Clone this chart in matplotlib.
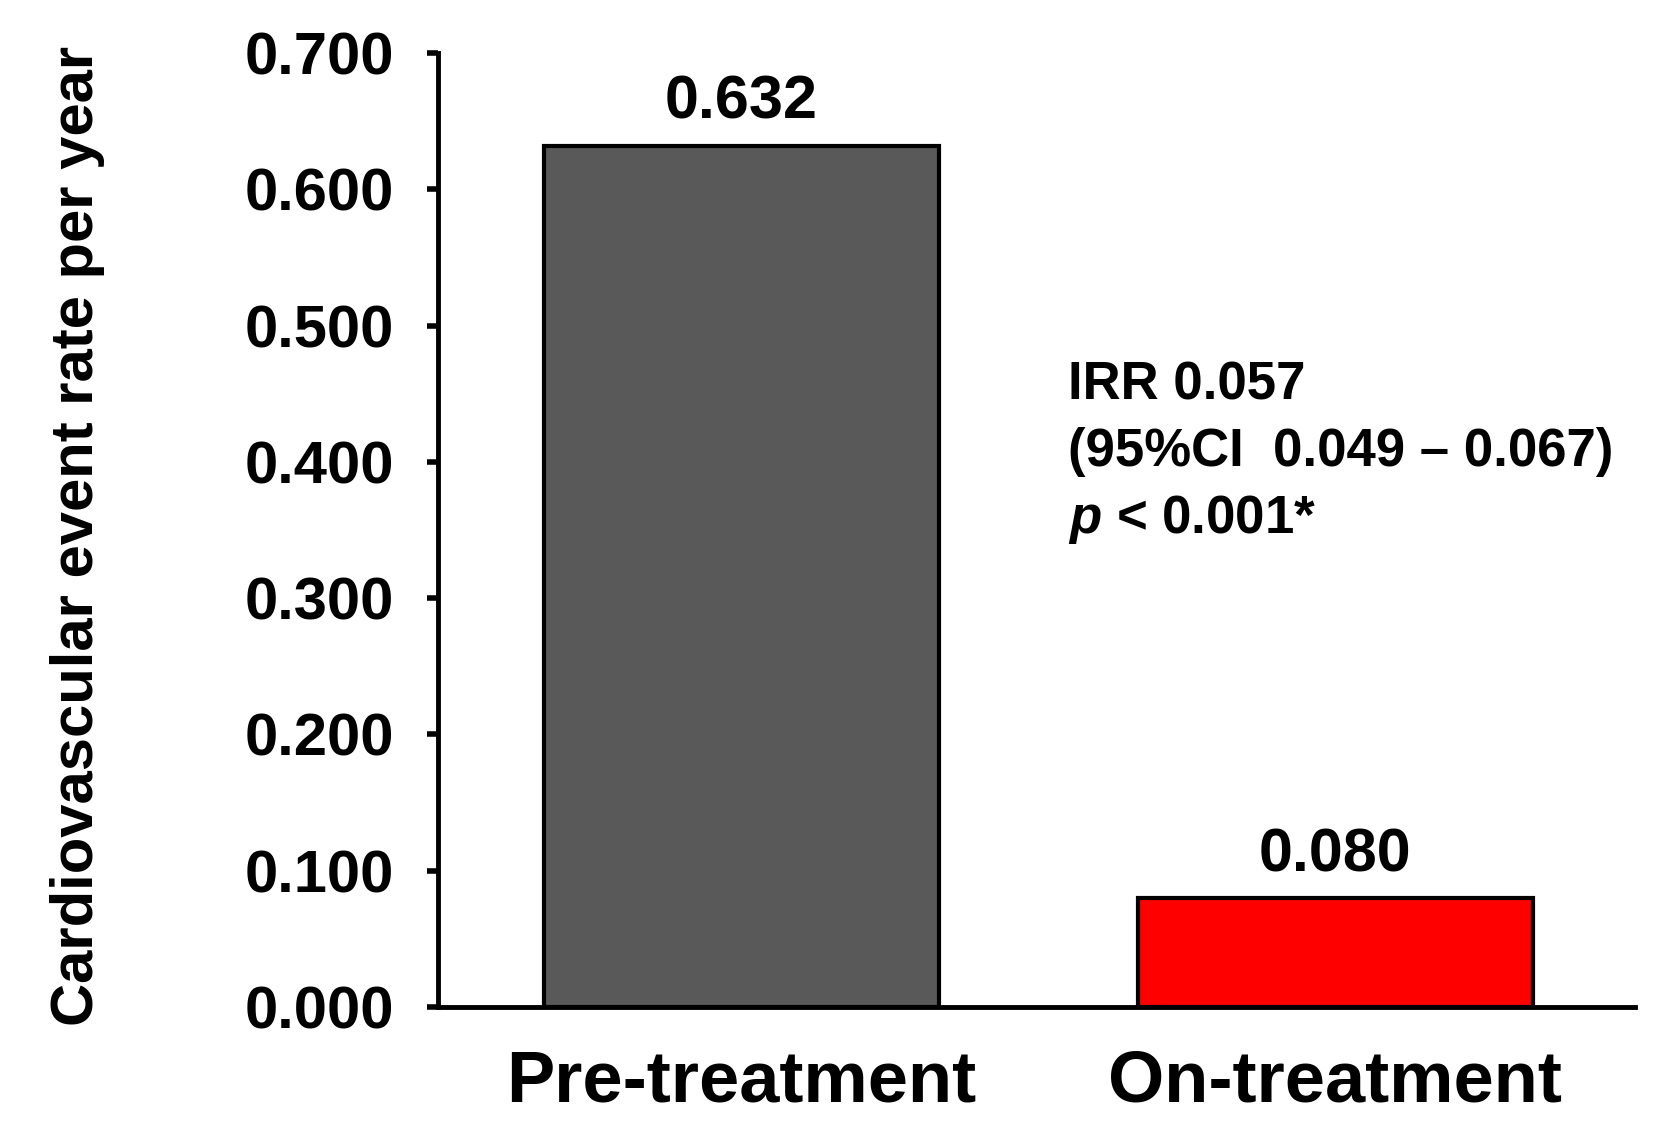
import matplotlib
matplotlib.use("Agg")
import matplotlib.pyplot as plt

# values
categories = ["Pre-treatment", "On-treatment"]
rates = [0.632, 0.080]
rate_labels = ["0.632", "0.080"]
bar_colors = ["#595959", "#ff0000"]
yticks = [0.0, 0.1, 0.2, 0.3, 0.4, 0.5, 0.6, 0.7]
irr_lines = ["IRR 0.057", "(95%CI  0.049 \u2013 0.067)", "$p$ < 0.001*"]

plt.rcParams["font.family"] = ["Liberation Sans", "DejaVu Sans"]
plt.rcParams["font.weight"] = "bold"
plt.rcParams["mathtext.fontset"] = "custom"
plt.rcParams["mathtext.it"] = "Liberation Sans:italic:bold"
plt.rcParams["mathtext.rm"] = "Liberation Sans:bold"

fig = plt.figure(figsize=(16.55, 11.3), dpi=100)
ax = fig.add_axes([0.2647, 0.1088, 0.7233, 0.8443])

x = list(range(len(categories)))
bars = ax.bar(x, rates, width=0.665, color=bar_colors, edgecolor="black", linewidth=3)

for xi, val, lab in zip(x, rates, rate_labels):
    ax.annotate(lab, (xi, val), xytext=(0, 10), textcoords="offset points",
                ha="center", va="bottom", fontsize=44, fontweight="bold")

ax.set_xlim(-0.51, 1.505)
ax.set_ylim(0, 0.7)
ax.set_yticks(yticks)
ax.set_yticklabels([f"{t:.3f}" for t in yticks], fontsize=43, fontweight="bold")
ax.set_xticks(x)
ax.set_xticklabels(categories, fontsize=52, fontweight="bold")
ax.tick_params(axis="y", direction="out", length=8, width=4, pad=24)
ax.tick_params(axis="x", length=0, pad=30)

for side in ["top", "right"]:
    ax.spines[side].set_visible(False)
for side in ["left", "bottom"]:
    ax.spines[side].set_linewidth(3.5)

fig.text(0.047, 0.526, "Cardiovascular event rate per year", rotation=90,
         ha="center", va="center", fontsize=43, fontweight="bold")

line_y = [385, 452, 520]
for txt, py in zip(irr_lines, line_y):
    fig.text(1068 / 1655, 1 - py / 1130, txt, ha="left", va="center",
             fontsize=38, fontweight="bold")

fig.savefig("out.png", dpi=100)
